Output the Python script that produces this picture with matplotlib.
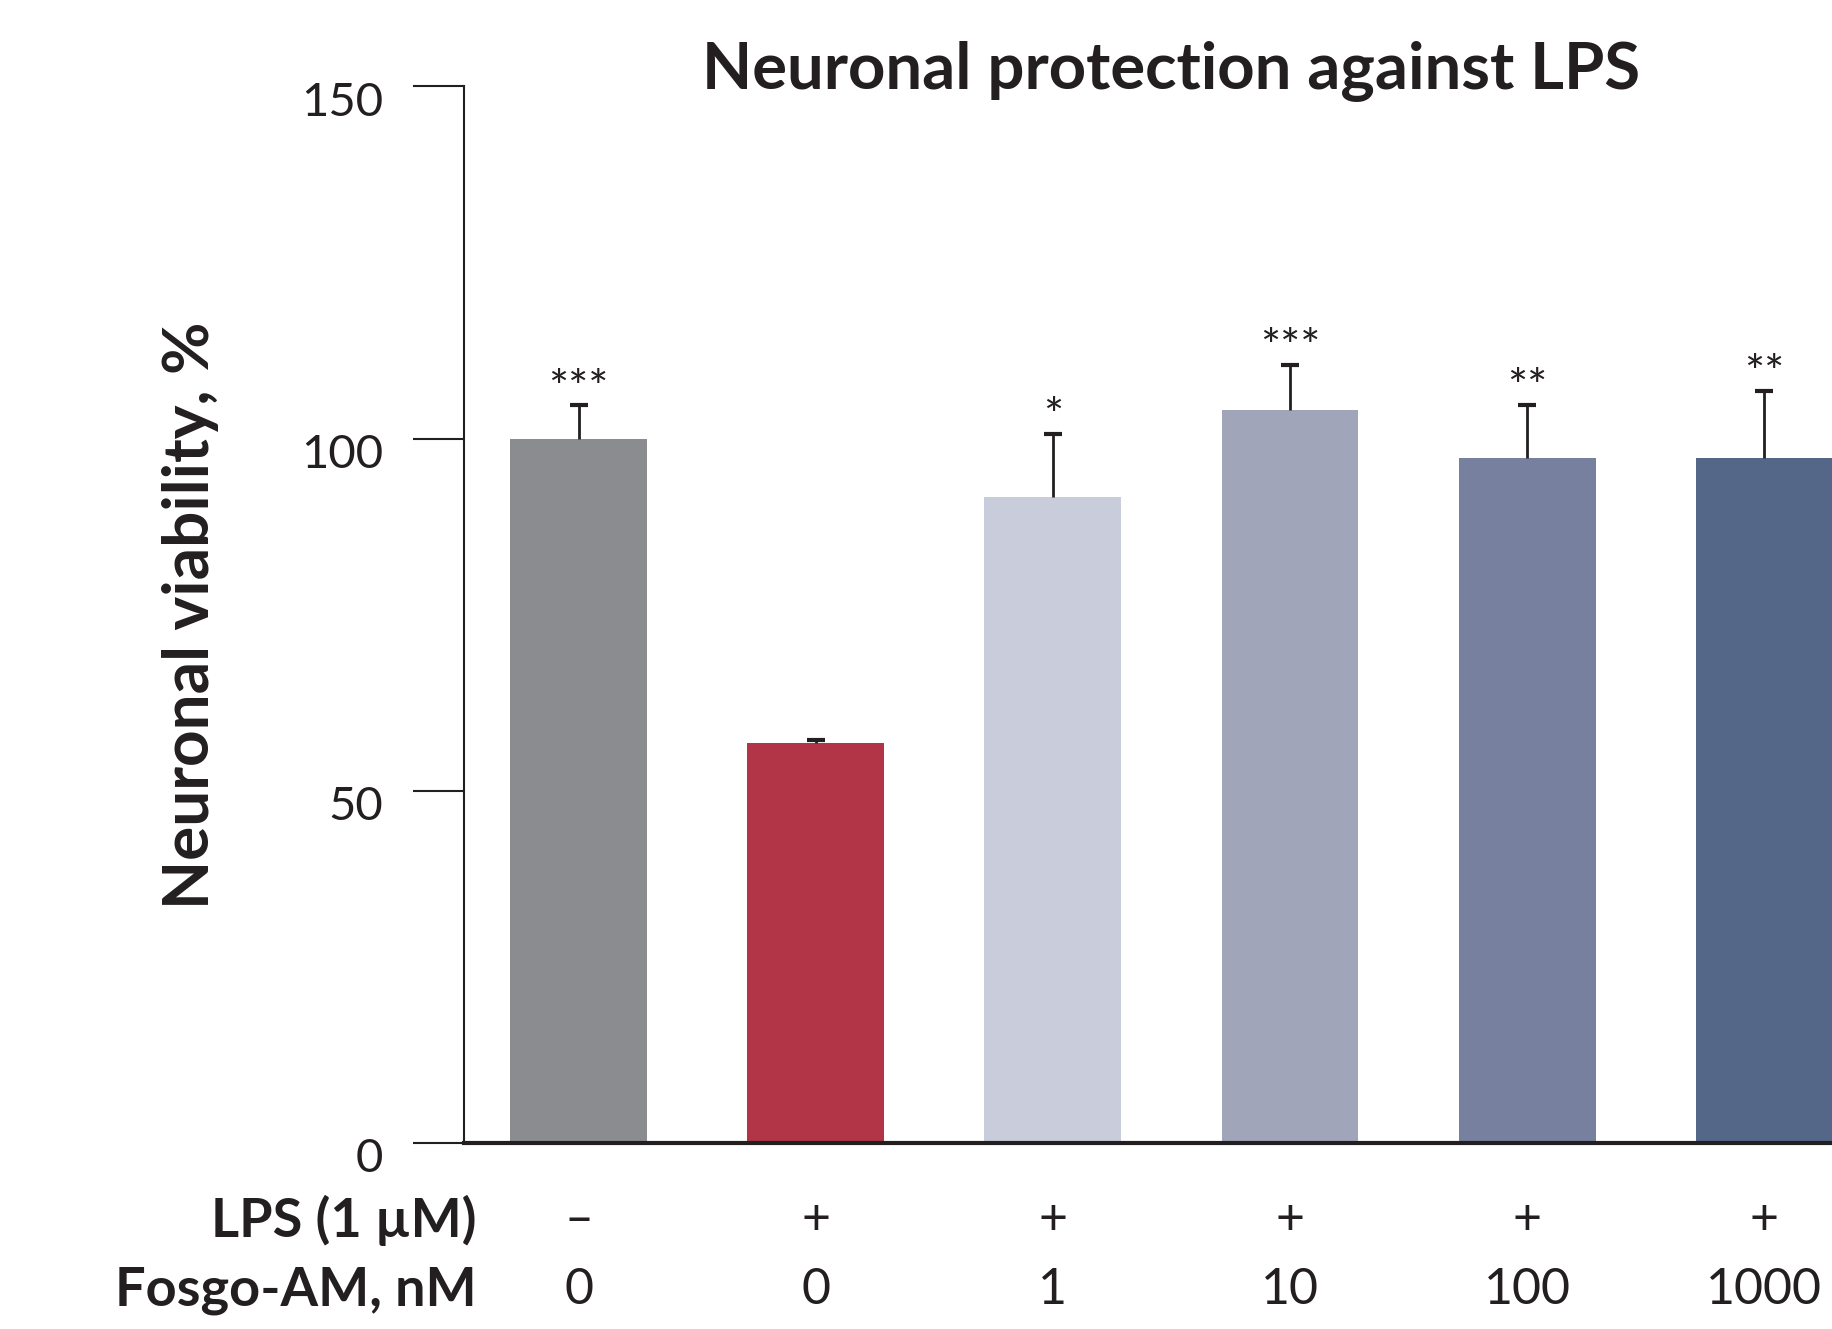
import numpy as np
import matplotlib
matplotlib.use('Agg')
import matplotlib.pyplot as plt
import matplotlib.transforms as mtransforms

plt.rcParams['font.family'] = ['Lato', 'DejaVu Sans']

# data
lps = ['\u2013', '+', '+', '+', '+', '+']
fosgo = ['0', '0', '1', '10', '100', '1000']
viability = [100, 56.8, 91.7, 104.0, 97.3, 97.3]
sem = [4.7, 0.4, 9.0, 6.5, 7.5, 9.5]
stars = ['***', '', '*', '***', '**', '**']
colors = ['#8b8c90', '#b13546', '#c9ccdb', '#a0a5ba', '#77819f', '#546789']

ink = '#231f20'
fig = plt.figure(figsize=(18.33, 13.29), dpi=100)
ax = fig.add_axes([464/1833, 0.140, 1 - 464/1833, 0.935 - 0.140])

x = np.arange(len(viability))
top = np.array(viability) + np.array(sem)
ax.bar(x, viability, width=0.577, color=colors, zorder=2)
# upper error only: stem + cap
ax.vlines(x, viability, top, color=ink, linewidth=2, zorder=3)
ax.hlines(top, x - 0.038, x + 0.038, color=ink, linewidth=3, zorder=3)

for xi, t, s in zip(x, top, stars):
    if s:
        ax.annotate(s, (xi, t), xytext=(0, -4), textcoords='offset points',
                    ha='center', va='bottom', fontsize=34, color=ink)

ax.set_xlim(-0.483, 5.29)
ax.set_ylim(0, 150)
ax.set_yticks([0, 50, 100, 150])
ax.set_xticks([])
for side in ['top', 'right']:
    ax.spines[side].set_visible(False)
ax.spines['left'].set_linewidth(1.5)
ax.spines['left'].set_color(ink)
ax.spines['bottom'].set_linewidth(3)
ax.spines['bottom'].set_color(ink)
ax.tick_params(axis='y', length=37, width=1.5, color=ink, pad=21,
               labelsize=34, labelcolor=ink)
shift = mtransforms.ScaledTranslation(0, -9/72, fig.dpi_scale_trans)
for lab in ax.get_yticklabels():
    lab.set_transform(lab.get_transform() + shift)

# condition rows under the bars
row = mtransforms.blended_transform_factory(ax.transData, fig.transFigure)
for xi, a, b in zip(x, lps, fosgo):
    ax.text(xi, 0.082, a, transform=row, ha='center', va='center',
            fontsize=36, color=ink)
    ax.text(xi, 0.029, b, transform=row, ha='center', va='center',
            fontsize=36, color=ink)
fig.text(477/1833, 0.082, 'LPS (1 \u00b5M)', ha='right', va='center',
         fontsize=39, fontweight='bold', color=ink)
fig.text(477/1833, 0.029, 'Fosgo-AM, nM', ha='right', va='center',
         fontsize=39, fontweight='bold', color=ink)

fig.text(191/1833, 0.537, 'Neuronal viability, %', rotation=90, ha='center',
         va='center', fontsize=46, fontweight='bold', color=ink)
fig.text(0.639, 0.946, 'Neuronal protection against LPS', ha='center',
         va='center', fontsize=47, fontweight='bold', color=ink)

fig.savefig('out.png', dpi=100)
